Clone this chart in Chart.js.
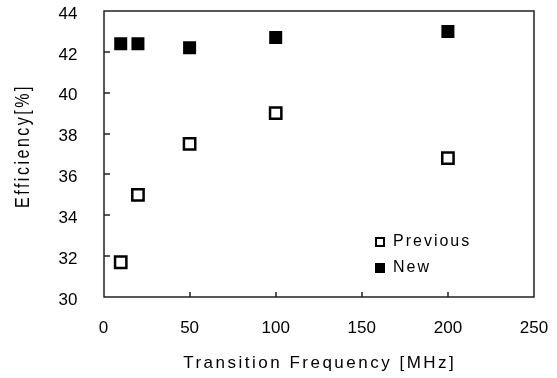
<!DOCTYPE html>
<html>
<head>
<meta charset="utf-8">
<script src="https://cdn.jsdelivr.net/npm/chart.js@4"></script>
<style>
  html, body { margin: 0; padding: 0; background: #fff; }
  #wrap { width: 557px; height: 378px; }
</style>
</head>
<body>
<div id="wrap"><canvas id="myChart" width="557" height="378"></canvas></div>
<script>
const freqs = [10, 20, 50, 100, 200];
const previous = [31.7, 35.0, 37.5, 39.0, 36.8];
const newer = [42.4, 42.4, 42.2, 42.7, 43.0];
const xTicks = [0, 50, 100, 150, 200, 250];
const yTicks = [30, 32, 34, 36, 38, 40, 42, 44];
const seriesNames = ['Previous', 'New'];
const xTitle = 'Transition Frequency [MHz]';
const yTitle = 'Efficiency[%]';

const FONT = '"Liberation Sans", Arial, sans-serif';
const toPoints = (vals) => freqs.map((f, i) => ({ x: f, y: vals[i] }));

// frame, inward ticks, axis titles and the legend
const frame = {
  id: 'frame',
  afterDraw(chart) {
    const { ctx, chartArea: a, scales } = chart;
    ctx.save();
    ctx.strokeStyle = '#222';
    ctx.lineWidth = 1.5;
    const L = Math.round(a.left), R = Math.round(a.right), T = Math.round(a.top), B = Math.round(a.bottom);
    ctx.beginPath();
    ctx.rect(L, T, R - L, B - T);
    xTicks.forEach(v => {
      const px = Math.round(scales.x.getPixelForValue(v));
      ctx.moveTo(px, B);
      ctx.lineTo(px, B - 5);
    });
    yTicks.forEach(v => {
      const py = Math.round(scales.y.getPixelForValue(v));
      ctx.moveTo(L, py);
      ctx.lineTo(L + 6, py);
    });
    ctx.stroke();

    // axis titles
    ctx.fillStyle = '#000';
    ctx.textAlign = 'center';
    ctx.textBaseline = 'middle';
    ctx.font = '17px ' + FONT;
    ctx.letterSpacing = '2.5px';
    ctx.fillText(xTitle, (a.left + a.right) / 2 + 1, 363);

    ctx.save();
    ctx.translate(23, 146);
    ctx.scale(1.25, 1);
    ctx.rotate(-Math.PI / 2);
    ctx.font = '16px ' + FONT;
    ctx.letterSpacing = '2.5px';
    ctx.fillText(yTitle, 0, 0);
    ctx.restore();

    // legend
    ctx.textAlign = 'left';
    ctx.font = '16px ' + FONT;
    ctx.letterSpacing = '2px';
    const lx = 380, ly = [242, 268];
    ctx.fillRect(lx - 5, ly[0] - 5, 10, 10);
    ctx.fillStyle = '#fff';
    ctx.fillRect(lx - 3, ly[0] - 3, 6, 6);
    ctx.fillStyle = '#000';
    ctx.fillText(seriesNames[0], lx + 13, ly[0]);
    ctx.fillRect(lx - 5, ly[1] - 5, 10, 10);
    ctx.fillText(seriesNames[1], lx + 13, ly[1]);
    ctx.restore();
  }
};

const ctx = document.getElementById('myChart');

new Chart(ctx, {
  type: 'scatter',
  data: {
    datasets: [{
      label: seriesNames[0],
      data: toPoints(previous),
      pointStyle: 'rect',
      pointRadius: 8,
      pointBorderWidth: 2.5,
      pointBackgroundColor: '#fff',
      pointBorderColor: '#000'
    }, {
      label: seriesNames[1],
      data: toPoints(newer),
      pointStyle: 'rect',
      pointRadius: 9.2,
      pointBorderWidth: 0,
      pointBackgroundColor: '#000',
      pointBorderColor: '#000'
    }]
  },
  plugins: [frame],
  options: {
    responsive: false,
    animation: false,
    layout: { padding: { left: 0, top: 11, right: 23, bottom: 0 } },
    plugins: {
      legend: { display: false },
      tooltip: { enabled: false }
    },
    scales: {
      x: {
        type: 'linear',
        min: 0,
        max: 250,
        afterBuildTicks: s => { s.ticks = xTicks.map(v => ({ value: v })); },
        afterFit: s => { s.height = 81; s.paddingLeft = 0; s.paddingRight = 0; },
        grid: { display: false, drawTicks: false },
        border: { display: false },
        ticks: {
          padding: 21,
          color: '#000',
          font: { size: 17, family: FONT }
        }
      },
      y: {
        min: 30,
        max: 44,
        afterBuildTicks: s => { s.ticks = yTicks.map(v => ({ value: v })); },
        afterFit: s => { s.width = 103.5; s.paddingTop = 0; s.paddingBottom = 0; },
        grid: { display: false, drawTicks: false },
        border: { display: false },
        ticks: {
          padding: 26,
          labelOffset: 3,
          color: '#000',
          font: { size: 17, family: FONT }
        }
      }
    }
  }
});
</script>
</body>
</html>
